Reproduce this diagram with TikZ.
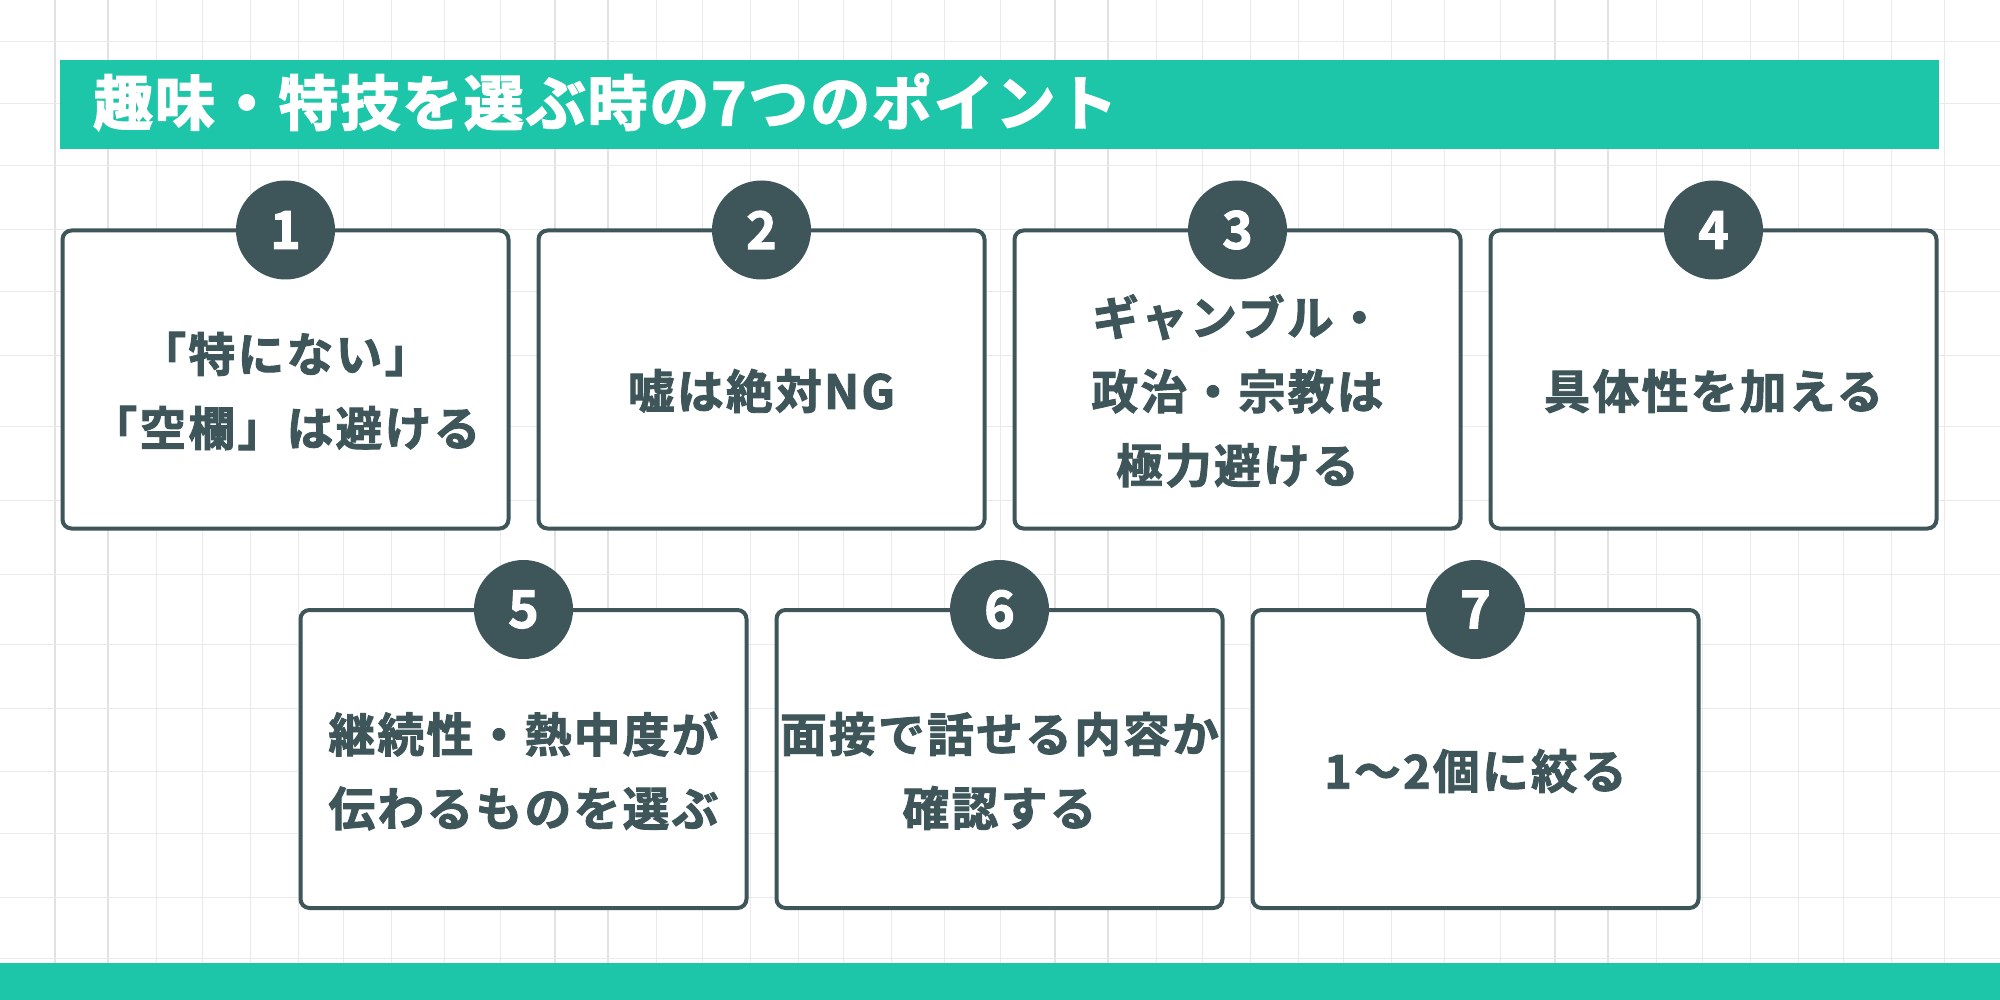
\documentclass[tikz,border=0pt]{standalone}
\usepackage{fontspec}
\newfontfamily\jpbody[LetterSpace=5,FakeBold=2]{Noto Sans CJK JP Bold}
\newfontfamily\jptitle[LetterSpace=3,FakeBold=2.5]{Noto Sans CJK JP Bold}
\newfontfamily\jpnum[FakeBold=2]{Noto Sans CJK JP Bold}
\definecolor{teal1}{HTML}{1DC6A8}
\definecolor{slate1}{HTML}{3E5659}
\definecolor{gridc}{HTML}{EAEAEA}
\definecolor{gridd}{HTML}{E2E2E2}
\tikzset{
  x=1pt,y=-1pt,
  gridline/.style={draw=gridc,line width=1pt},
  gridstrong/.style={draw=gridd,line width=1.3pt},
  bandbar/.style={fill=teal1,draw=none,inner sep=0pt,outer sep=0pt},
  cardbox/.style={draw=slate1,line width=4pt,fill=white,rounded corners=9pt,minimum width=446pt,minimum height=298pt,inner sep=0pt},
  numdot/.style={circle,fill=slate1,draw=none,minimum size=99pt,inner sep=0pt,text=white,font=\jpnum\fontsize{52}{52}\selectfont},
  cardtext/.style={text=slate1,align=center,inner sep=0pt,font=\jpbody\fontsize{46.7}{74}\selectfont},
  titletext/.style={text=white,anchor=west,inner sep=0pt,font=\jptitle\fontsize{60}{60}\selectfont}
}
\begin{document}
\begin{tikzpicture}
\useasboundingbox (0,0) rectangle (2000,1000);
\fill[white] (0,0) rectangle (2000,1000);
% background paper grid
\foreach \o in {0,500,1000,1500}{
  \foreach \d in {156,202,250,298,343,391,444,500}{
    \draw[gridline] (\o+\d,0) -- (\o+\d,965);
  }
  \foreach \d in {55,108}{
    \draw[gridstrong] (\o+\d,0) -- (\o+\d,965);
  }
}
\foreach \h in {42,104,166,230,292,355,426,500,574,644,708,771,833,897,958}{
  \draw[gridline] (0,\h) -- (2000,\h);
}
% bars
\node[bandbar,minimum width=1879pt,minimum height=89pt] (titlebar) at (999.5,105) {};
\node[bandbar,minimum width=2000pt,minimum height=37pt] (footbar) at (1000,981.5) {};
\node[titletext] (title) at (93,102) {趣味・特技を選ぶ時の7つのポイント};
% cards
\foreach \n/\cx/\cy in {1/285.5/379.5,2/761.5/379.5,3/1237.5/379.5,4/1713.5/379.5,5/523.5/759,6/999.5/759,7/1475.5/759}{
  \node[cardbox] (card\n) at (\cx,\cy) {};
  \node[numdot] (num\n) at (\cx,\cy-149.5) {\n};
}
\node[cardtext] (text1) at (285.5,391) {「特にない」\\「空欄」は避ける};
\node[cardtext] (text2) at (761.5,391) {嘘は絶対NG};
\node[cardtext] (text3) at (1237.5,391) {ギャンブル・\\政治・宗教は\\極力避ける};
\node[cardtext] (text4) at (1713.5,391) {具体性を加える};
\node[cardtext] (text5) at (523.5,771) {継続性・熱中度が\\伝わるものを選ぶ};
\node[cardtext] (text6) at (999.5,771) {面接で話せる内容か\\確認する};
\node[cardtext] (text7) at (1475.5,771) {1〜2個に絞る};
\end{tikzpicture}
\end{document}
